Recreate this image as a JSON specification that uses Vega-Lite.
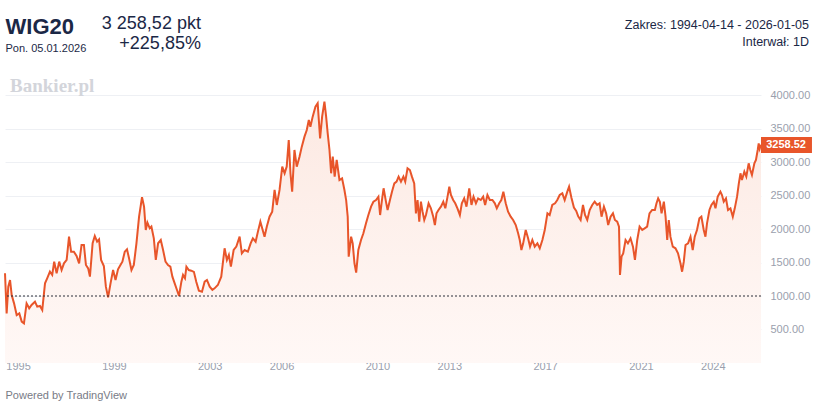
{
  "$schema": "https://vega.github.io/schema/vega-lite/v6.json",
  "width": 756,
  "height": 270,
  "autosize": "none",
  "padding": {"left": 5, "top": 80, "right": 54, "bottom": 54},
  "background": "#ffffff",
  "data": {
    "values": [
      {"date": "1994-06-16", "close": 1339},
      {"date": "1994-07-11", "close": 741},
      {"date": "1994-08-05", "close": 1139},
      {"date": "1994-09-01", "close": 1239},
      {"date": "1994-09-26", "close": 1015},
      {"date": "1994-11-01", "close": 890},
      {"date": "1994-12-11", "close": 716},
      {"date": "1995-01-20", "close": 741},
      {"date": "1995-02-26", "close": 617},
      {"date": "1995-04-01", "close": 592},
      {"date": "1995-05-11", "close": 890},
      {"date": "1995-06-20", "close": 816},
      {"date": "1995-07-26", "close": 866},
      {"date": "1995-09-16", "close": 915},
      {"date": "1995-10-20", "close": 841},
      {"date": "1995-12-01", "close": 851},
      {"date": "1996-01-05", "close": 791},
      {"date": "1996-02-16", "close": 1189},
      {"date": "1996-03-20", "close": 1264},
      {"date": "1996-05-01", "close": 1363},
      {"date": "1996-06-05", "close": 1314},
      {"date": "1996-07-05", "close": 1513},
      {"date": "1996-08-11", "close": 1339},
      {"date": "1996-09-20", "close": 1513},
      {"date": "1996-10-26", "close": 1388},
      {"date": "1996-12-01", "close": 1488},
      {"date": "1997-01-11", "close": 1538},
      {"date": "1997-02-16", "close": 1886},
      {"date": "1997-03-20", "close": 1662},
      {"date": "1997-05-01", "close": 1662},
      {"date": "1997-06-11", "close": 1597},
      {"date": "1997-07-20", "close": 1488},
      {"date": "1997-08-26", "close": 1762},
      {"date": "1997-10-01", "close": 1762},
      {"date": "1997-11-01", "close": 1463},
      {"date": "1997-12-05", "close": 1413},
      {"date": "1998-01-01", "close": 1289},
      {"date": "1998-02-11", "close": 1787},
      {"date": "1998-03-16", "close": 1896},
      {"date": "1998-04-20", "close": 1812},
      {"date": "1998-05-20", "close": 1846},
      {"date": "1998-06-20", "close": 1538},
      {"date": "1998-08-01", "close": 1448},
      {"date": "1998-09-01", "close": 1139},
      {"date": "1998-10-05", "close": 980},
      {"date": "1998-11-11", "close": 1189},
      {"date": "1998-12-20", "close": 1388},
      {"date": "1999-01-26", "close": 1239},
      {"date": "1999-03-05", "close": 1398},
      {"date": "1999-04-11", "close": 1463},
      {"date": "1999-05-11", "close": 1513},
      {"date": "1999-06-16", "close": 1662},
      {"date": "1999-07-20", "close": 1697},
      {"date": "1999-08-20", "close": 1563},
      {"date": "1999-09-26", "close": 1388},
      {"date": "1999-11-01", "close": 1463},
      {"date": "1999-12-11", "close": 1787},
      {"date": "2000-01-20", "close": 2185},
      {"date": "2000-03-05", "close": 2474},
      {"date": "2000-04-05", "close": 2335},
      {"date": "2000-05-01", "close": 1986},
      {"date": "2000-05-26", "close": 2096},
      {"date": "2000-07-01", "close": 2011},
      {"date": "2000-07-26", "close": 2036},
      {"date": "2000-09-01", "close": 1861},
      {"date": "2000-10-01", "close": 1538},
      {"date": "2000-11-05", "close": 1787},
      {"date": "2000-12-16", "close": 1836},
      {"date": "2001-01-20", "close": 1687},
      {"date": "2001-02-26", "close": 1513},
      {"date": "2001-04-05", "close": 1463},
      {"date": "2001-05-11", "close": 1438},
      {"date": "2001-06-11", "close": 1289},
      {"date": "2001-07-16", "close": 1189},
      {"date": "2001-08-20", "close": 1090},
      {"date": "2001-09-20", "close": 1000},
      {"date": "2001-10-26", "close": 1214},
      {"date": "2001-11-20", "close": 1314},
      {"date": "2001-12-20", "close": 1264},
      {"date": "2002-01-11", "close": 1438},
      {"date": "2002-02-16", "close": 1388},
      {"date": "2002-03-26", "close": 1378},
      {"date": "2002-05-05", "close": 1360},
      {"date": "2002-06-11", "close": 1210},
      {"date": "2002-07-20", "close": 1080},
      {"date": "2002-09-05", "close": 1065},
      {"date": "2002-10-16", "close": 1214},
      {"date": "2002-11-20", "close": 1239},
      {"date": "2003-01-01", "close": 1139},
      {"date": "2003-02-11", "close": 1090},
      {"date": "2003-03-16", "close": 1114},
      {"date": "2003-05-05", "close": 1164},
      {"date": "2003-06-26", "close": 1289},
      {"date": "2003-08-16", "close": 1712},
      {"date": "2003-09-20", "close": 1538},
      {"date": "2003-10-20", "close": 1612},
      {"date": "2003-11-20", "close": 1438},
      {"date": "2004-01-01", "close": 1687},
      {"date": "2004-02-11", "close": 1737},
      {"date": "2004-04-01", "close": 1886},
      {"date": "2004-05-05", "close": 1637},
      {"date": "2004-06-16", "close": 1687},
      {"date": "2004-08-05", "close": 1662},
      {"date": "2004-09-16", "close": 1786},
      {"date": "2004-10-20", "close": 1861},
      {"date": "2004-12-01", "close": 1811},
      {"date": "2005-01-05", "close": 1961},
      {"date": "2005-02-11", "close": 2110},
      {"date": "2005-03-11", "close": 2010},
      {"date": "2005-04-16", "close": 1886},
      {"date": "2005-05-20", "close": 2035},
      {"date": "2005-07-01", "close": 2184},
      {"date": "2005-08-11", "close": 2259},
      {"date": "2005-09-16", "close": 2583},
      {"date": "2005-10-20", "close": 2359},
      {"date": "2005-12-01", "close": 2583},
      {"date": "2006-01-11", "close": 2931},
      {"date": "2006-02-16", "close": 2832},
      {"date": "2006-03-20", "close": 2931},
      {"date": "2006-04-20", "close": 3329},
      {"date": "2006-05-16", "close": 2832},
      {"date": "2006-06-11", "close": 2558},
      {"date": "2006-07-16", "close": 3180},
      {"date": "2006-08-20", "close": 2931},
      {"date": "2006-10-01", "close": 3080},
      {"date": "2006-11-05", "close": 3230},
      {"date": "2006-12-16", "close": 3379},
      {"date": "2007-01-20", "close": 3479},
      {"date": "2007-02-20", "close": 3628},
      {"date": "2007-03-16", "close": 3528},
      {"date": "2007-04-20", "close": 3678},
      {"date": "2007-06-01", "close": 3827},
      {"date": "2007-07-05", "close": 3877},
      {"date": "2007-08-11", "close": 3354},
      {"date": "2007-09-11", "close": 3678},
      {"date": "2007-10-16", "close": 3902},
      {"date": "2007-11-11", "close": 3678},
      {"date": "2007-12-05", "close": 3429},
      {"date": "2008-01-01", "close": 3180},
      {"date": "2008-01-26", "close": 2832},
      {"date": "2008-02-20", "close": 3080},
      {"date": "2008-03-20", "close": 2782},
      {"date": "2008-04-20", "close": 3031},
      {"date": "2008-06-01", "close": 2732},
      {"date": "2008-07-11", "close": 2757},
      {"date": "2008-08-16", "close": 2583},
      {"date": "2008-09-11", "close": 2433},
      {"date": "2008-10-05", "close": 2184},
      {"date": "2008-10-20", "close": 1587},
      {"date": "2008-11-26", "close": 1886},
      {"date": "2008-12-20", "close": 1786},
      {"date": "2009-01-16", "close": 1488},
      {"date": "2009-02-11", "close": 1348},
      {"date": "2009-03-16", "close": 1687},
      {"date": "2009-04-26", "close": 1836},
      {"date": "2009-06-01", "close": 1936},
      {"date": "2009-07-11", "close": 2085},
      {"date": "2009-08-16", "close": 2209},
      {"date": "2009-09-26", "close": 2334},
      {"date": "2009-11-01", "close": 2408},
      {"date": "2009-12-11", "close": 2433},
      {"date": "2010-01-16", "close": 2483},
      {"date": "2010-02-11", "close": 2209},
      {"date": "2010-03-11", "close": 2433},
      {"date": "2010-04-05", "close": 2608},
      {"date": "2010-05-11", "close": 2410},
      {"date": "2010-06-05", "close": 2284},
      {"date": "2010-07-11", "close": 2433},
      {"date": "2010-08-11", "close": 2558},
      {"date": "2010-09-16", "close": 2682},
      {"date": "2010-10-20", "close": 2707},
      {"date": "2010-11-20", "close": 2782},
      {"date": "2010-12-26", "close": 2707},
      {"date": "2011-02-01", "close": 2782},
      {"date": "2011-03-01", "close": 2707},
      {"date": "2011-04-05", "close": 2906},
      {"date": "2011-05-11", "close": 2881},
      {"date": "2011-06-11", "close": 2782},
      {"date": "2011-07-16", "close": 2682},
      {"date": "2011-08-11", "close": 2234},
      {"date": "2011-09-05", "close": 2433},
      {"date": "2011-10-01", "close": 2110},
      {"date": "2011-10-26", "close": 2408},
      {"date": "2011-11-20", "close": 2259},
      {"date": "2011-12-16", "close": 2135},
      {"date": "2012-01-11", "close": 2209},
      {"date": "2012-02-20", "close": 2384},
      {"date": "2012-03-26", "close": 2309},
      {"date": "2012-05-01", "close": 2184},
      {"date": "2012-05-26", "close": 2060},
      {"date": "2012-06-20", "close": 2234},
      {"date": "2012-07-20", "close": 2284},
      {"date": "2012-08-26", "close": 2334},
      {"date": "2012-10-01", "close": 2408},
      {"date": "2012-11-01", "close": 2309},
      {"date": "2012-12-05", "close": 2483},
      {"date": "2013-01-01", "close": 2632},
      {"date": "2013-01-26", "close": 2508},
      {"date": "2013-03-01", "close": 2433},
      {"date": "2013-04-01", "close": 2384},
      {"date": "2013-05-05", "close": 2309},
      {"date": "2013-06-11", "close": 2209},
      {"date": "2013-07-11", "close": 2384},
      {"date": "2013-08-16", "close": 2458},
      {"date": "2013-09-20", "close": 2334},
      {"date": "2013-11-01", "close": 2608},
      {"date": "2013-12-05", "close": 2359},
      {"date": "2014-01-05", "close": 2483},
      {"date": "2014-02-11", "close": 2384},
      {"date": "2014-03-16", "close": 2458},
      {"date": "2014-04-26", "close": 2433},
      {"date": "2014-06-01", "close": 2483},
      {"date": "2014-07-01", "close": 2359},
      {"date": "2014-08-05", "close": 2508},
      {"date": "2014-09-11", "close": 2433},
      {"date": "2014-10-20", "close": 2433},
      {"date": "2014-11-26", "close": 2384},
      {"date": "2014-12-26", "close": 2309},
      {"date": "2015-02-01", "close": 2384},
      {"date": "2015-03-05", "close": 2433},
      {"date": "2015-04-05", "close": 2558},
      {"date": "2015-05-11", "close": 2384},
      {"date": "2015-06-16", "close": 2259},
      {"date": "2015-07-26", "close": 2184},
      {"date": "2015-09-01", "close": 2135},
      {"date": "2015-10-11", "close": 2060},
      {"date": "2015-11-16", "close": 1936},
      {"date": "2015-12-11", "close": 1836},
      {"date": "2016-01-05", "close": 1687},
      {"date": "2016-02-01", "close": 1786},
      {"date": "2016-03-11", "close": 1986},
      {"date": "2016-04-16", "close": 1861},
      {"date": "2016-05-16", "close": 1737},
      {"date": "2016-06-20", "close": 1836},
      {"date": "2016-07-26", "close": 1737},
      {"date": "2016-09-05", "close": 1786},
      {"date": "2016-10-11", "close": 1712},
      {"date": "2016-11-20", "close": 1836},
      {"date": "2016-12-26", "close": 1986},
      {"date": "2017-02-05", "close": 2234},
      {"date": "2017-03-11", "close": 2209},
      {"date": "2017-04-20", "close": 2359},
      {"date": "2017-06-01", "close": 2384},
      {"date": "2017-07-05", "close": 2433},
      {"date": "2017-08-11", "close": 2508},
      {"date": "2017-09-20", "close": 2533},
      {"date": "2017-10-26", "close": 2433},
      {"date": "2017-12-05", "close": 2558},
      {"date": "2018-01-01", "close": 2632},
      {"date": "2018-02-05", "close": 2470},
      {"date": "2018-03-16", "close": 2320},
      {"date": "2018-04-20", "close": 2270},
      {"date": "2018-05-20", "close": 2190},
      {"date": "2018-06-26", "close": 2135},
      {"date": "2018-08-01", "close": 2359},
      {"date": "2018-09-01", "close": 2209},
      {"date": "2018-10-05", "close": 2135},
      {"date": "2018-11-11", "close": 2284},
      {"date": "2018-12-20", "close": 2359},
      {"date": "2019-01-26", "close": 2408},
      {"date": "2019-03-05", "close": 2359},
      {"date": "2019-04-11", "close": 2384},
      {"date": "2019-05-11", "close": 2184},
      {"date": "2019-06-16", "close": 2334},
      {"date": "2019-07-20", "close": 2234},
      {"date": "2019-08-20", "close": 2060},
      {"date": "2019-09-26", "close": 2184},
      {"date": "2019-11-01", "close": 2234},
      {"date": "2019-12-01", "close": 2135},
      {"date": "2020-01-05", "close": 2110},
      {"date": "2020-02-01", "close": 2035},
      {"date": "2020-02-16", "close": 1314},
      {"date": "2020-03-11", "close": 1587},
      {"date": "2020-04-05", "close": 1637},
      {"date": "2020-05-11", "close": 1836},
      {"date": "2020-06-16", "close": 1786},
      {"date": "2020-07-26", "close": 1861},
      {"date": "2020-09-01", "close": 1737},
      {"date": "2020-10-01", "close": 1538},
      {"date": "2020-11-05", "close": 1836},
      {"date": "2020-12-11", "close": 2035},
      {"date": "2021-01-20", "close": 1986},
      {"date": "2021-02-26", "close": 2010},
      {"date": "2021-04-05", "close": 2035},
      {"date": "2021-05-11", "close": 2234},
      {"date": "2021-06-20", "close": 2284},
      {"date": "2021-08-01", "close": 2284},
      {"date": "2021-08-26", "close": 2384},
      {"date": "2021-09-20", "close": 2458},
      {"date": "2021-10-16", "close": 2408},
      {"date": "2021-11-11", "close": 2234},
      {"date": "2021-12-16", "close": 2408},
      {"date": "2022-01-11", "close": 2184},
      {"date": "2022-02-05", "close": 1836},
      {"date": "2022-03-01", "close": 2135},
      {"date": "2022-03-26", "close": 1886},
      {"date": "2022-05-01", "close": 1737},
      {"date": "2022-06-11", "close": 1712},
      {"date": "2022-07-20", "close": 1637},
      {"date": "2022-08-26", "close": 1488},
      {"date": "2022-09-20", "close": 1363},
      {"date": "2022-10-16", "close": 1513},
      {"date": "2022-11-11", "close": 1761},
      {"date": "2022-12-20", "close": 1786},
      {"date": "2023-01-26", "close": 1886},
      {"date": "2023-03-01", "close": 1687},
      {"date": "2023-04-01", "close": 1886},
      {"date": "2023-05-05", "close": 1985},
      {"date": "2023-06-11", "close": 2160},
      {"date": "2023-07-11", "close": 2184},
      {"date": "2023-08-16", "close": 1985},
      {"date": "2023-09-11", "close": 1886},
      {"date": "2023-10-05", "close": 2085},
      {"date": "2023-11-11", "close": 2284},
      {"date": "2023-12-11", "close": 2359},
      {"date": "2024-01-16", "close": 2408},
      {"date": "2024-02-11", "close": 2309},
      {"date": "2024-03-16", "close": 2483},
      {"date": "2024-04-26", "close": 2558},
      {"date": "2024-05-20", "close": 2508},
      {"date": "2024-06-16", "close": 2408},
      {"date": "2024-07-20", "close": 2458},
      {"date": "2024-08-20", "close": 2284},
      {"date": "2024-09-26", "close": 2309},
      {"date": "2024-11-01", "close": 2184},
      {"date": "2024-12-01", "close": 2309},
      {"date": "2025-01-05", "close": 2483},
      {"date": "2025-02-01", "close": 2682},
      {"date": "2025-02-26", "close": 2832},
      {"date": "2025-03-20", "close": 2732},
      {"date": "2025-04-26", "close": 2856},
      {"date": "2025-05-26", "close": 2782},
      {"date": "2025-07-01", "close": 2981},
      {"date": "2025-07-26", "close": 2881},
      {"date": "2025-08-20", "close": 2807},
      {"date": "2025-09-26", "close": 2981},
      {"date": "2025-10-20", "close": 3031},
      {"date": "2025-11-16", "close": 3180},
      {"date": "2025-12-01", "close": 3279},
      {"date": "2025-12-16", "close": 3200},
      {"date": "2026-01-05", "close": 3258.52}
    ]
  },
  "layer": [
    {
      "mark": {
        "type": "area",
        "fill": {
          "gradient": "linear",
          "x1": 0, "y1": 0, "x2": 0, "y2": 1,
          "stops": [
            {"offset": 0, "color": "#fce9e2"},
            {"offset": 1, "color": "#fff8f6"}
          ]
        }
      },
      "encoding": {
        "x": {
          "field": "date",
          "type": "temporal",
          "scale": {"domain": ["1994-06-16", "2026-01-05"]},
          "title": "Powered by TradingView",
          "axis": {
            "values": [
              {"year": 1995, "month": 1, "date": 1},
              {"year": 1999, "month": 1, "date": 1},
              {"year": 2003, "month": 1, "date": 1},
              {"year": 2006, "month": 1, "date": 1},
              {"year": 2010, "month": 1, "date": 1},
              {"year": 2013, "month": 1, "date": 1},
              {"year": 2017, "month": 1, "date": 1},
              {"year": 2021, "month": 1, "date": 1},
              {"year": 2024, "month": 1, "date": 1}
            ],
            "tickCount": 20,
            "format": "%Y",
            "grid": false,
            "domain": false,
            "ticks": false,
            "tickSize": 0,
            "labelPadding": 10,
            "labelOverlap": false,
            "labelFont": "Liberation Sans",
            "labelFontSize": 11,
            "labelColor": "#9aa0ad",
            "titleFont": "Liberation Sans",
            "titleFontSize": 11,
            "titleFontWeight": "normal",
            "titleColor": "#787b86",
            "titleAnchor": "start",
            "titleAlign": "left",
            "titlePadding": 18
          }
        },
        "y": {
          "field": "close",
          "type": "quantitative",
          "scale": {"domain": [193.8, 4224.9], "nice": false, "zero": false},
          "title": null,
          "axis": {
            "orient": "right",
            "values": [500, 1000, 1500, 2000, 2500, 3000, 3500, 4000],
            "tickCount": 10,
            "format": ".2f",
            "grid": true,
            "gridColor": "#eef0f4",
            "gridWidth": 1,
            "domain": false,
            "ticks": false,
            "tickSize": 0,
            "labelPadding": 9,
            "labelOverlap": false,
            "labelFont": "Liberation Sans",
            "labelFontSize": 11,
            "labelColor": "#9aa0ad"
          }
        }
      }
    },
    {
      "mark": {"type": "line", "color": "#e8552a", "strokeWidth": 2},
      "encoding": {
        "x": {"field": "date", "type": "temporal", "scale": {"domain": ["1994-06-16", "2026-01-05"]}, "title": "Powered by TradingView"},
        "y": {"field": "close", "type": "quantitative", "scale": {"domain": [193.8, 4224.9], "nice": false, "zero": false}, "title": null}
      }
    },
    {
      "data": {"values": [{}]},
      "mark": {"type": "rule", "color": "#2a2e39", "strokeDash": [2, 2], "strokeWidth": 1},
      "encoding": {
        "y": {"datum": 1000, "type": "quantitative"}
      }
    },
    {
      "data": {"values": [{}]},
      "mark": {"type": "rect", "color": "#e8552a"},
      "encoding": {
        "x": {"datum": {"year": 2026, "month": 1, "date": 5}, "type": "temporal"},
        "x2": {"datum": {"year": 2028, "month": 2, "date": 21}},
        "y": {"datum": 3135, "type": "quantitative"},
        "y2": {"datum": 3374}
      }
    },
    {
      "data": {"values": [{}]},
      "mark": {"type": "text", "color": "#ffffff", "font": "Liberation Sans", "fontSize": 11, "fontWeight": "bold", "align": "center", "baseline": "middle"},
      "encoding": {
        "x": {"datum": {"year": 2027, "month": 1, "date": 22}, "type": "temporal"},
        "y": {"datum": 3258.52, "type": "quantitative"},
        "text": {"value": "3258.52"}
      }
    },
    {
      "data": {"values": [{}]},
      "mark": {"type": "text", "color": "#1b2846", "font": "Liberation Sans", "fontSize": 22, "fontWeight": "bold", "align": "left", "baseline": "middle"},
      "encoding": {
        "x": {"datum": {"year": 1994, "month": 6, "date": 24}, "type": "temporal"},
        "y": {"datum": 5016, "type": "quantitative"},
        "text": {"value": "WIG20"}
      }
    },
    {
      "data": {"values": [{}]},
      "mark": {"type": "text", "color": "#1b2846", "font": "Liberation Sans", "fontSize": 11, "align": "left", "baseline": "middle"},
      "encoding": {
        "x": {"datum": {"year": 1994, "month": 6, "date": 24}, "type": "temporal"},
        "y": {"datum": 4688, "type": "quantitative"},
        "text": {"value": "Pon. 05.01.2026"}
      }
    },
    {
      "data": {"values": [{}]},
      "mark": {"type": "text", "color": "#1b2846", "font": "Liberation Sans", "fontSize": 18, "align": "right", "baseline": "middle"},
      "encoding": {
        "x": {"datum": {"year": 2002, "month": 8, "date": 20}, "type": "temporal"},
        "y": {"datum": 5061, "type": "quantitative"},
        "text": {"value": "3 258,52 pkt"}
      }
    },
    {
      "data": {"values": [{}]},
      "mark": {"type": "text", "color": "#1b2846", "font": "Liberation Sans", "fontSize": 18, "align": "right", "baseline": "middle"},
      "encoding": {
        "x": {"datum": {"year": 2002, "month": 8, "date": 20}, "type": "temporal"},
        "y": {"datum": 4762, "type": "quantitative"},
        "text": {"value": "+225,85%"}
      }
    },
    {
      "data": {"values": [{}]},
      "mark": {"type": "text", "color": "#1b2846", "font": "Liberation Sans", "fontSize": 12.5, "align": "right", "baseline": "middle"},
      "encoding": {
        "x": {"datum": {"year": 2028, "month": 1, "date": 6}, "type": "temporal"},
        "y": {"datum": 5046, "type": "quantitative"},
        "text": {"value": "Zakres: 1994-04-14 - 2026-01-05"}
      }
    },
    {
      "data": {"values": [{}]},
      "mark": {"type": "text", "color": "#1b2846", "font": "Liberation Sans", "fontSize": 12.5, "align": "right", "baseline": "middle"},
      "encoding": {
        "x": {"datum": {"year": 2028, "month": 1, "date": 6}, "type": "temporal"},
        "y": {"datum": 4792, "type": "quantitative"},
        "text": {"value": "Interwał: 1D"}
      }
    },
    {
      "data": {"values": [{}]},
      "mark": {"type": "text", "color": "#d3d5db", "font": "Liberation Serif", "fontSize": 19, "fontWeight": "bold", "align": "left", "baseline": "middle"},
      "encoding": {
        "x": {"datum": {"year": 1994, "month": 9, "date": 1}, "type": "temporal"},
        "y": {"datum": 4135, "type": "quantitative"},
        "text": {"value": "Bankier.pl"}
      }
    }
  ],
  "config": {
    "view": {"stroke": null}
  }
}
